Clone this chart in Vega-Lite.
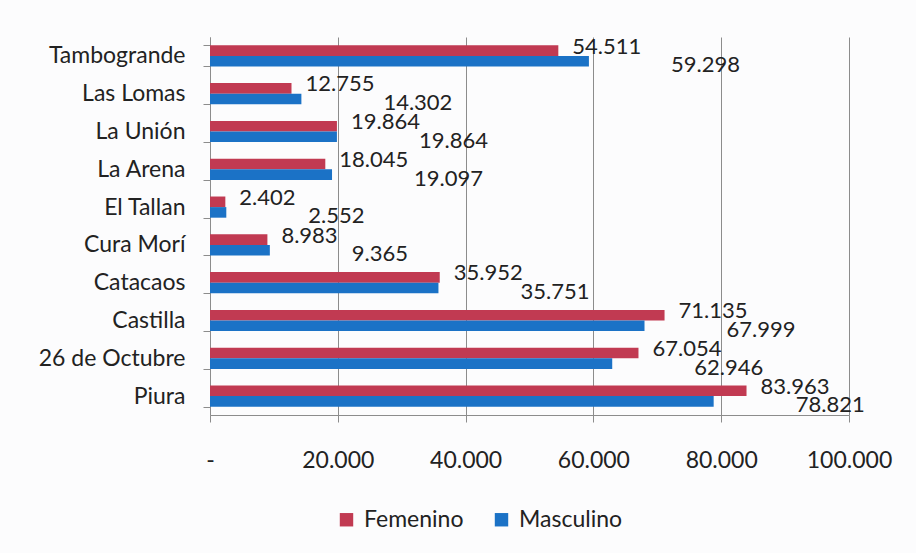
{
  "$schema": "https://vega.github.io/schema/vega-lite/v6.json",
  "width": 639,
  "height": 378,
  "autosize": "none",
  "padding": {"left": 210, "top": 37, "right": 67, "bottom": 138},
  "background": "#fcfcfd",
  "config": {
    "locale": {"number": {"decimal": ",", "thousands": ".", "grouping": [3], "currency": ["", ""]}},
    "view": {"stroke": null},
    "font": "Lato",
    "text": {"font": "Lato"}
  },
  "data": {
    "values": [
      {"distrito": "Tambogrande", "sexo": "Femenino", "poblacion": 54511},
      {"distrito": "Tambogrande", "sexo": "Masculino", "poblacion": 59298},
      {"distrito": "Las Lomas", "sexo": "Femenino", "poblacion": 12755},
      {"distrito": "Las Lomas", "sexo": "Masculino", "poblacion": 14302},
      {"distrito": "La Unión", "sexo": "Femenino", "poblacion": 19864},
      {"distrito": "La Unión", "sexo": "Masculino", "poblacion": 19864},
      {"distrito": "La Arena", "sexo": "Femenino", "poblacion": 18045},
      {"distrito": "La Arena", "sexo": "Masculino", "poblacion": 19097},
      {"distrito": "El Tallan", "sexo": "Femenino", "poblacion": 2402},
      {"distrito": "El Tallan", "sexo": "Masculino", "poblacion": 2552},
      {"distrito": "Cura Morí", "sexo": "Femenino", "poblacion": 8983},
      {"distrito": "Cura Morí", "sexo": "Masculino", "poblacion": 9365},
      {"distrito": "Catacaos", "sexo": "Femenino", "poblacion": 35952},
      {"distrito": "Catacaos", "sexo": "Masculino", "poblacion": 35751},
      {"distrito": "Castilla", "sexo": "Femenino", "poblacion": 71135},
      {"distrito": "Castilla", "sexo": "Masculino", "poblacion": 67999},
      {"distrito": "26 de Octubre", "sexo": "Femenino", "poblacion": 67054},
      {"distrito": "26 de Octubre", "sexo": "Masculino", "poblacion": 62946},
      {"distrito": "Piura", "sexo": "Femenino", "poblacion": 83963},
      {"distrito": "Piura", "sexo": "Masculino", "poblacion": 78821}
    ]
  },
  "encoding": {
    "y": {
      "field": "distrito",
      "type": "nominal",
      "sort": ["Tambogrande", "Las Lomas", "La Unión", "La Arena", "El Tallan", "Cura Morí", "Catacaos", "Castilla", "26 de Octubre", "Piura"],
      "scale": {"paddingInner": 0.44, "paddingOuter": 0.22},
      "axis": {
        "title": null,
        "domainColor": "#8c8c8c",
        "tickColor": "#8c8c8c",
        "tickBand": "extent",
        "tickSize": 7,
        "labelPadding": 18,
        "labelFontSize": 23,
        "labelColor": "#222222",
        "labelFont": "Lato"
      }
    },
    "yOffset": {"field": "sexo", "type": "nominal", "sort": ["Femenino", "Masculino"]},
    "x": {
      "field": "poblacion",
      "type": "quantitative",
      "scale": {"domain": [0, 100000], "nice": false},
      "axis": {
        "title": null,
        "values": [0, 20000, 40000, 60000, 80000, 100000],
        "labelExpr": "datum.value == 0 ? '-' : replace(format(datum.value, ','), ',', '.')",
        "labelFlush": false,
        "labelOverlap": false,
        "grid": true,
        "gridColor": "#8c8c8c",
        "domainColor": "#8c8c8c",
        "tickColor": "#8c8c8c",
        "tickSize": 7,
        "labelPadding": 27,
        "labelFontSize": 23,
        "labelColor": "#222222",
        "labelFont": "Lato"
      }
    }
  },
  "layer": [
    {
      "mark": {"type": "bar"},
      "encoding": {
        "color": {
          "field": "sexo",
          "type": "nominal",
          "sort": ["Femenino", "Masculino"],
          "scale": {"domain": ["Femenino", "Masculino"], "range": ["#C13A52", "#1B72C6"]},
          "legend": {
            "title": null,
            "orient": "none",
            "direction": "horizontal",
            "legendX": 125,
            "legendY": 471,
            "symbolType": "square",
            "symbolSize": 180,
            "symbolStrokeWidth": 0,
            "labelFontSize": 23,
            "labelFont": "Lato",
            "labelColor": "#222222",
            "labelOffset": 6,
            "columnPadding": 26
          }
        }
      }
    },
    {
      "transform": [{"filter": "datum.sexo == 'Femenino'"}],
      "mark": {"type": "text", "align": "left", "baseline": "middle", "dx": 14, "dy": -4, "fontSize": 22, "color": "#222222"},
      "encoding": {"text": {"field": "poblacion", "type": "quantitative", "format": ","}}
    },
    {
      "transform": [{"filter": "datum.sexo == 'Masculino'"}],
      "mark": {"type": "text", "align": "left", "baseline": "middle", "dx": 82, "dy": 4, "fontSize": 22, "color": "#222222"},
      "encoding": {"text": {"field": "poblacion", "type": "quantitative", "format": ","}}
    }
  ]
}
